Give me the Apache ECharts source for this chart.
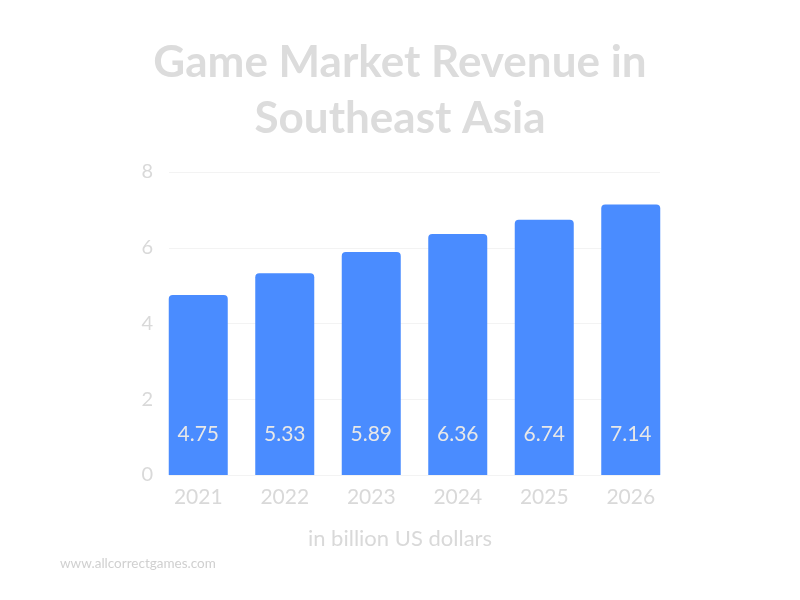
<!DOCTYPE html>
<html>
<head>
<meta charset="utf-8">
<title>Game Market Revenue in Southeast Asia</title>
<style>
    html,body{margin:0;padding:0;background:#fff;}
    #chart{width:800px;height:600px;}
</style>
</head>
<body>
<div id="chart"></div>
<script src="https://cdn.jsdelivr.net/npm/echarts@6/dist/echarts.min.js"></script>
<script>
    // 数据
    var years = ['2021', '2022', '2023', '2024', '2025', '2026'];
    var revenue = [4.75, 5.33, 5.89, 6.36, 6.74, 7.14];
    var yTicks = [0, 2, 4, 6, 8];

    var font = 'Lato, "Open Sans", sans-serif';
    var myChart = echarts.init(document.getElementById('chart'));

    var option = {
        backgroundColor: '#fff',
        animation: false,
        title: {
            text: 'Game Market Revenue in\nSoutheast Asia',
            left: 'center',
            top: 30,
            textStyle: {
                color: '#dcdcdc',
                fontFamily: font,
                fontWeight: 'bold',
                fontSize: 44,
                lineHeight: 56
            }
        },
        // grid 0: bars, grid 1: gridlines + y labels (gridlines only span the bars)
        grid: [
            {left: 155, right: 126, top: 172, bottom: 125},
            {left: 169, right: 140, top: 172, bottom: 125}
        ],
        xAxis: [{
            type: 'category',
            gridIndex: 0,
            data: years,
            axisLine: {show: false},
            axisTick: {show: false},
            axisLabel: {
                color: '#d9d9d9',
                fontFamily: font,
                fontSize: 21,
                margin: 12
            }
        }, {
            type: 'category',
            gridIndex: 1,
            data: years,
            show: false
        }],
        yAxis: [{
            type: 'value',
            gridIndex: 0,
            min: 0,
            max: 8,
            interval: 2,
            show: false
        }, {
            type: 'value',
            gridIndex: 1,
            min: yTicks[0],
            max: yTicks[yTicks.length - 1],
            interval: 2,
            axisLine: {show: false},
            axisTick: {show: false},
            axisLabel: {
                color: '#d9d9d9',
                fontFamily: font,
                fontSize: 20,
                margin: 16
            },
            splitLine: {
                lineStyle: {color: '#f3f3f3', width: 1}
            }
        }],
        series: [{
            name: 'Revenue',
            type: 'bar',
            xAxisIndex: 0,
            yAxisIndex: 0,
            data: revenue,
            barWidth: 59,
            itemStyle: {
                color: '#4a8cff',
                borderRadius: [4, 4, 0, 0]
            },
            label: {
                show: true,
                position: 'insideBottom',
                distance: 30,
                color: '#e8e8e8',
                fontFamily: font,
                fontSize: 21,
                formatter: function (p) { return p.value.toFixed(2); }
            }
        }],
        graphic: [{
            type: 'text',
            left: 'center',
            top: 528,
            style: {
                text: 'in billion US dollars',
                fill: '#d9d9d9',
                font: '22px ' + font
            }
        }, {
            type: 'text',
            left: 60,
            top: 557,
            style: {
                text: 'www.allcorrectgames.com',
                fill: '#d0d0d0',
                font: '13.5px ' + font
            }
        }]
    };
    myChart.setOption(option);
</script>
</body>
</html>
